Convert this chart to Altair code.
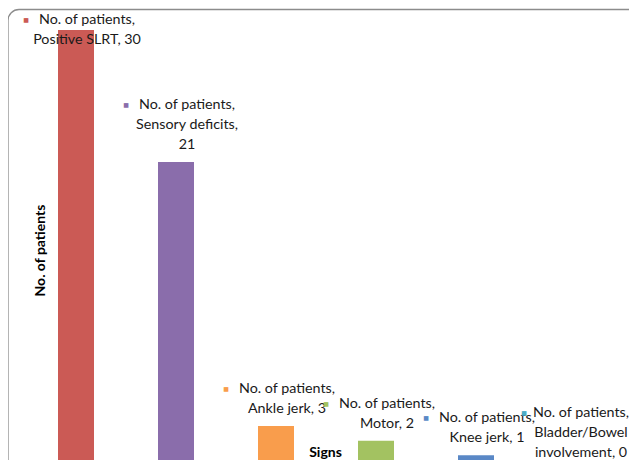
import altair as alt
import pandas as pd

categories = ["Positive SLRT", "Sensory deficits", "Ankle jerk", "Motor",
              "Knee jerk", "Bladder/Bowel involvement"]
patients = [30, 21, 3, 2, 1, 0]
label_lines = [
    ["No. of patients,", "Positive SLRT, 30"],
    ["No. of patients,", "Sensory deficits,", "21"],
    ["No. of patients,", "Ankle jerk, 3"],
    ["No. of patients,", "Motor, 2"],
    ["No. of patients,", "Knee jerk, 1"],
    ["No. of patients,", "Bladder/Bowel", "involvement, 0"],
]
colors = ["#CB5A55", "#8A6DAB", "#F99D4C", "#A3C261", "#5A88C6", "#4BACC6"]

df = pd.DataFrame({"sign": categories, "patients": patients})

rows = []
for cat, val, lines in zip(categories, patients, label_lines):
    n = len(lines)
    for i, line in enumerate(lines):
        rows.append({"sign": cat, "patients": val, "line": line,
                     "k": n - 1 - i, "first": i == 0})
ldf = pd.DataFrame(rows)

FONT = "Lato"
FS = 14.3
y_scale = alt.Scale(domain=[0.68, 30], nice=False, zero=False)
color_enc = alt.Color("sign:N", scale=alt.Scale(domain=categories, range=colors), legend=None)
x_plain = alt.X("sign:N", sort=categories)

frame = alt.Chart(df).transform_filter("datum.sign == 'Positive SLRT'").mark_rect(
    fillOpacity=0, stroke="#8C8C8C", strokeWidth=1.3, cornerRadius=11
).encode(x=alt.value(-18), x2=alt.value(640), y=alt.value(-20.5), y2=alt.value(700))

bars = alt.Chart(df).mark_bar(width=36, clip=True).encode(
    x=alt.X("sign:N", sort=categories,
            scale=alt.Scale(paddingInner=0.64, paddingOuter=0.32),
            axis=alt.Axis(title="Signs", labels=False, ticks=False, domain=False,
                          titleFont=FONT, titleFontSize=14, titleFontWeight="bold",
                          titleColor="#000", titleX=299, titleY=-8,
                          titleAlign="center", titleBaseline="middle")),
    y=alt.Y("patients:Q", scale=y_scale,
            axis=alt.Axis(title="No. of patients", labels=False, ticks=False, domain=False,
                          grid=False, titleFont=FONT, titleFontSize=14,
                          titleFontWeight="bold", titleColor="#000", titleAngle=270,
                          titleX=14, titleY=220, titleAlign="center",
                          titleBaseline="middle")),
    color=color_enc,
)

layers = [frame, bars]
lab = alt.Chart(ldf).transform_calculate(lv="min(datum.patients, 28.15)")
last = categories[-1]
for k in range(3):
    dy = -17 - 20 * k
    for cond, dx, mdx in ((f"datum.sign != '{last}'", 11, -50),
                          (f"datum.sign == '{last}'", 5, -52)):
        layers.append(
            lab.transform_filter(f"datum.k == {k} && {cond}").mark_text(
                font=FONT, fontSize=FS, align="center", baseline="middle",
                dx=dx, dy=dy, color="#1a1a1a"
            ).encode(x=x_plain, y=alt.Y("lv:Q", scale=y_scale), text="line:N")
        )
        layers.append(
            lab.transform_filter(f"datum.k == {k} && datum.first && {cond}").mark_text(
                font="DejaVu Sans", fontSize=6, align="center", baseline="middle",
                dx=mdx, dy=dy
            ).encode(x=x_plain, y=alt.Y("lv:Q", scale=y_scale),
                     text=alt.value("\u25A0"), color=color_enc)
        )

chart = alt.layer(*layers).properties(
    width=600, height=430,
    autosize=alt.AutoSizeParams(type="none"),
    padding={"left": 18, "top": 22, "right": 3, "bottom": 0},
).configure_view(stroke=None).configure_axis(grid=False)

chart.save("out.html", embed_options={"renderer": "svg", "actions": False})
